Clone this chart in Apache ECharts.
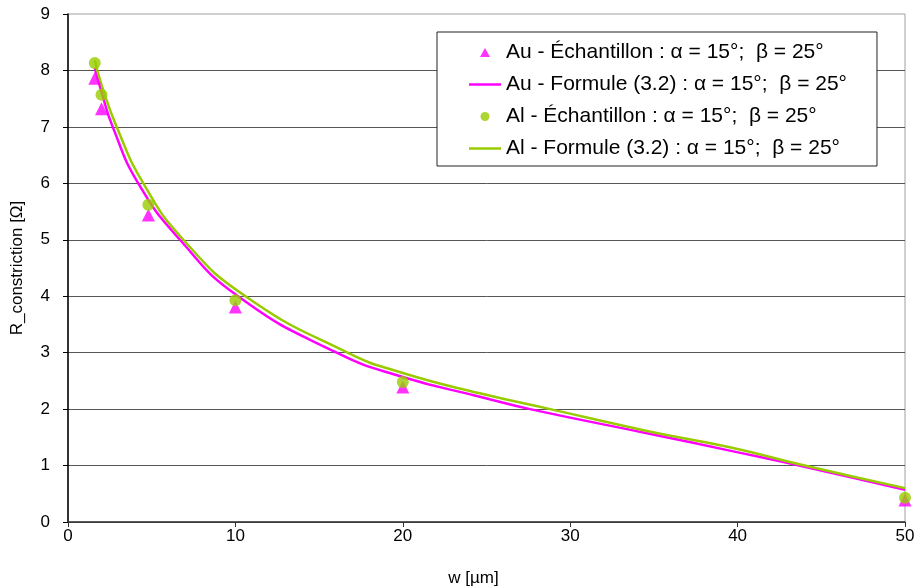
<!DOCTYPE html>
<html>
<head>
<meta charset="utf-8">
<script src="https://cdn.jsdelivr.net/npm/echarts@6/dist/echarts.min.js"></script>
<style>
  html, body { margin: 0; padding: 0; background: #fff; }
  #chart { width: 919px; height: 588px; }
</style>
</head>
<body>
<div id="chart"></div>
<script>
// mesures (échantillons)
const sampleW = [1.6, 2, 4.8, 10, 20, 50]
const auSample = [7.86, 7.32, 5.44, 3.81, 2.39, 0.39]
const alSample = [8.13, 7.57, 5.62, 3.93, 2.48, 0.43]

// courbes Formule (3.2)
const auCurveW = [1.6, 2, 2.67, 4.2, 6.69, 10.16, 16.05, 20, 24.6, 27.6, 34.8, 39.6, 44, 50]
const auCurve = [8.05, 7.62, 7.0, 6.0, 5.0, 4.0, 3.0, 2.57, 2.22, 2.0, 1.56, 1.26, 0.98, 0.57]
const alCurveW = [1.6, 2, 2.91, 4.5, 6.89, 10.6, 16.7, 20, 24.6, 28.8, 34.8, 39.6, 44, 50]
const alCurve = [8.18, 7.75, 7.0, 6.0, 5.0, 4.0, 3.0, 2.64, 2.28, 2.0, 1.6, 1.32, 1.0, 0.6]

const legendNames = [
  'Au - Échantillon : α = 15°;  β = 25°',
  'Au - Formule (3.2) : α = 15°;  β = 25°',
  'Al - Échantillon : α = 15°;  β = 25°',
  'Al - Formule (3.2) : α = 15°;  β = 25°'
]

const MAGENTA = '#ff00ff'
const GREEN = '#99cc00'
const FONT = 'Liberation Sans'
const LINE_ICON = 'path://M0,0 L32,0 L32,2.5 L0,2.5 Z'
const TRI_ICON = 'path://M5,0 L10,9 L0,9 Z'

const zip = (xs, ys) => xs.map((x, i) => [x, ys[i]])

const chart = echarts.init(document.getElementById('chart'))
chart.setOption({
  animation: false,
  textStyle: { fontFamily: FONT },
  grid: {
    left: 68,
    right: 14,
    top: 14,
    bottom: 66,
    outerBoundsMode: 'none',
    containLabel: false,
    show: true,
    borderColor: '#a0a0a0',
    borderWidth: 1
  },
  xAxis: {
    type: 'value',
    min: 0,
    max: 50,
    interval: 10,
    name: 'w [µm]',
    nameLocation: 'middle',
    nameGap: 48,
    nameTextStyle: { color: '#000', fontSize: 17, fontFamily: FONT, padding: [0, 26, 0, 0] },
    axisLine: { lineStyle: { color: '#333', width: 1.5 } },
    axisTick: { show: true, length: 5, lineStyle: { color: '#333' } },
    axisLabel: { color: '#000', fontSize: 17, margin: 6, fontFamily: FONT },
    splitLine: { show: false }
  },
  yAxis: {
    type: 'value',
    min: 0,
    max: 9,
    interval: 1,
    name: 'R_constriction [Ω]',
    nameLocation: 'middle',
    nameGap: 42,
    nameTextStyle: { color: '#000', fontSize: 17, fontFamily: FONT },
    axisLine: { show: true, lineStyle: { color: '#000', width: 1.5 } },
    axisTick: { show: true, length: 5, lineStyle: { color: '#000' } },
    axisLabel: { color: '#000', fontSize: 17, margin: 18, fontFamily: FONT },
    splitLine: { show: true, showMaxLine: false, lineStyle: { color: '#555', width: 1 } }
  },
  legend: {
    orient: 'vertical',
    left: 437,
    top: 32,
    padding: [10, 30, 7, 32],
    itemGap: 11,
    itemWidth: 32,
    itemHeight: 9,
    borderColor: '#222',
    borderWidth: 1,
    backgroundColor: '#fff',
    textStyle: { color: '#000', fontSize: 21, fontFamily: FONT },
    data: [
      { name: legendNames[0], icon: TRI_ICON, itemStyle: { color: MAGENTA } },
      { name: legendNames[1], icon: LINE_ICON, itemStyle: { color: MAGENTA } },
      { name: legendNames[2], icon: 'circle', itemStyle: { color: GREEN } },
      { name: legendNames[3], icon: LINE_ICON, itemStyle: { color: GREEN } }
    ]
  },
  series: [
    {
      name: legendNames[0],
      type: 'scatter',
      symbol: 'triangle',
      symbolSize: 13,
      itemStyle: { color: MAGENTA },
      data: zip(sampleW, auSample),
      z: 3
    },
    {
      name: legendNames[1],
      type: 'line',
      smooth: 0.5,
      symbol: 'none',
      lineStyle: { color: MAGENTA, width: 2.5 },
      itemStyle: { color: MAGENTA },
      data: zip(auCurveW, auCurve),
      z: 2
    },
    {
      name: legendNames[2],
      type: 'scatter',
      symbol: 'circle',
      symbolSize: 12,
      itemStyle: { color: GREEN },
      data: zip(sampleW, alSample),
      z: 4
    },
    {
      name: legendNames[3],
      type: 'line',
      smooth: 0.5,
      symbol: 'none',
      lineStyle: { color: GREEN, width: 2.5 },
      itemStyle: { color: GREEN },
      data: zip(alCurveW, alCurve),
      z: 2
    }
  ]
})
</script>
</body>
</html>
